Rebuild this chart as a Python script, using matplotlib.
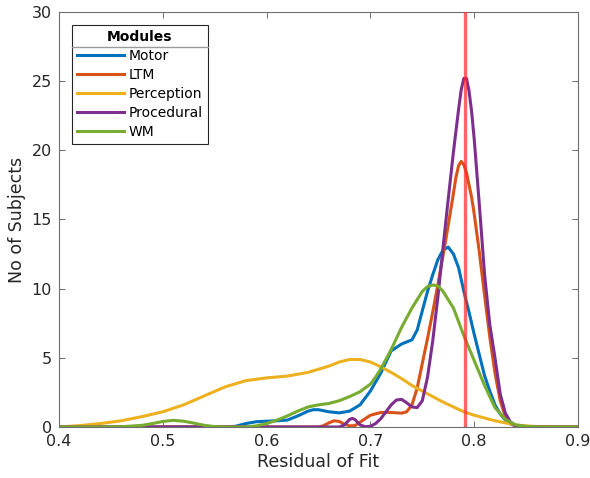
import matplotlib
matplotlib.use("Agg")
import matplotlib.pyplot as plt
from matplotlib.lines import Line2D

# ---------------- data ----------------
motor_x = [0.40, 0.50, 0.56, 0.57, 0.58, 0.59, 0.60, 0.61, 0.62, 0.63, 0.64, 0.645, 0.65,
           0.66, 0.67, 0.68, 0.69, 0.70, 0.71, 0.72, 0.73, 0.74, 0.745, 0.75, 0.755, 0.76,
           0.765, 0.77, 0.775, 0.78, 0.785, 0.79, 0.795, 0.80, 0.805, 0.81, 0.815, 0.82,
           0.825, 0.83, 0.835, 0.84, 0.85, 0.90]
motor_y = [0.0, 0.0, 0.0, 0.05, 0.25, 0.38, 0.42, 0.45, 0.5, 0.8, 1.15, 1.25, 1.25,
           1.1, 1.02, 1.15, 1.6, 2.6, 3.9, 5.5, 6.0, 6.3, 7.0, 8.4, 9.8, 11.0,
           12.1, 12.8, 13.0, 12.5, 11.5, 9.8, 8.3, 6.7, 5.2, 3.7, 2.6, 1.6,
           0.95, 0.5, 0.22, 0.08, 0.02, 0.0]

ltm_x = [0.40, 0.60, 0.65, 0.655, 0.66, 0.665, 0.67, 0.675, 0.68, 0.685, 0.69, 0.70, 0.71,
         0.72, 0.73, 0.735, 0.74, 0.745, 0.75, 0.755, 0.76, 0.765, 0.77, 0.775, 0.78,
         0.7825, 0.785, 0.7875, 0.79, 0.7925, 0.795, 0.7975, 0.80, 0.805, 0.81, 0.815,
         0.82, 0.825, 0.83, 0.835, 0.84, 0.85, 0.90]
ltm_y = [0.0, 0.0, 0.0, 0.1, 0.3, 0.45, 0.4, 0.2, 0.08, 0.1, 0.35, 0.85, 1.05,
         1.05, 1.0, 1.1, 1.6, 2.8, 4.6, 6.4, 8.3, 10.3, 12.4, 14.6, 16.9,
         18.1, 18.9, 19.2, 18.95, 18.4, 17.5, 16.6, 15.4, 12.6, 9.5, 6.5,
         3.9, 1.9, 0.75, 0.25, 0.08, 0.0, 0.0]

perception_x = [0.40, 0.42, 0.44, 0.46, 0.48, 0.50, 0.52, 0.54, 0.56, 0.58, 0.60, 0.62,
                0.64, 0.66, 0.67, 0.68, 0.69, 0.70, 0.71, 0.72, 0.73, 0.74, 0.75, 0.76,
                0.77, 0.78, 0.79, 0.80, 0.81, 0.82, 0.83, 0.84, 0.85, 0.86, 0.88, 0.90]
perception_y = [0.0, 0.1, 0.25, 0.45, 0.75, 1.1, 1.6, 2.25, 2.9, 3.35, 3.55, 3.68,
                3.95, 4.4, 4.7, 4.88, 4.88, 4.7, 4.35, 3.95, 3.5, 3.0, 2.6, 2.2,
                1.8, 1.45, 1.1, 0.85, 0.65, 0.45, 0.3, 0.15, 0.08, 0.03, 0.0, 0.0]

procedural_x = [0.40, 0.60, 0.67, 0.675, 0.68, 0.6825, 0.685, 0.69, 0.695, 0.70, 0.705,
                0.71, 0.715, 0.72, 0.725, 0.73, 0.735, 0.74, 0.745, 0.75, 0.755, 0.76,
                0.765, 0.77, 0.775, 0.78, 0.785, 0.7875, 0.79, 0.7925, 0.795, 0.7975,
                0.80, 0.805, 0.81, 0.815, 0.82, 0.825, 0.83, 0.835, 0.84, 0.85, 0.90]
procedural_y = [0.0, 0.0, 0.0, 0.15, 0.55, 0.62, 0.55, 0.15, 0.02, 0.05, 0.25,
                0.6, 1.1, 1.6, 1.95, 2.0, 1.75, 1.45, 1.4, 1.9, 3.6, 6.2,
                9.4, 13.0, 16.5, 19.9, 23.0, 24.4, 25.2, 25.2, 24.3, 22.8,
                20.8, 16.0, 11.0, 7.4, 5.0, 2.4, 1.0, 0.35, 0.1, 0.0, 0.0]

wm_x = [0.40, 0.44, 0.46, 0.48, 0.49, 0.50, 0.51, 0.52, 0.53, 0.54, 0.55, 0.56, 0.58,
        0.59, 0.60, 0.61, 0.62, 0.63, 0.64, 0.65, 0.66, 0.67, 0.68, 0.69, 0.70, 0.705,
        0.71, 0.72, 0.73, 0.74, 0.75, 0.755, 0.76, 0.765, 0.77, 0.78, 0.79, 0.80, 0.81,
        0.82, 0.83, 0.84, 0.85, 0.86, 0.90]
wm_y = [0.0, 0.0, 0.02, 0.12, 0.25, 0.4, 0.48, 0.42, 0.28, 0.12, 0.03, 0.0, 0.0,
        0.08, 0.25, 0.5, 0.8, 1.15, 1.45, 1.6, 1.7, 1.9, 2.2, 2.55, 3.1, 3.6,
        4.2, 5.6, 7.2, 8.6, 9.8, 10.15, 10.27, 10.2, 9.8, 8.6, 6.6, 4.8, 3.0,
        1.4, 0.55, 0.15, 0.05, 0.0, 0.0]

series_names = ["Motor", "LTM", "Perception", "Procedural", "WM"]
series_x = [motor_x, ltm_x, perception_x, procedural_x, wm_x]
series_y = [motor_y, ltm_y, perception_y, procedural_y, wm_y]
series_colors = ["#0072BD", "#D95319", "#EDB120", "#7E2F8E", "#77AC30"]
marker_value = 0.791

x_ticks = [0.4, 0.5, 0.6, 0.7, 0.8, 0.9]
x_ticklabels = ["0.4", "0.5", "0.6", "0.7", "0.8", "0.9"]
y_ticks = [0, 5, 10, 15, 20, 25, 30]

# ---------------- figure ----------------
plt.rcParams["font.family"] = ["DejaVu Sans"]
fig = plt.figure(figsize=(5.9, 4.78), dpi=100)
ax = fig.add_axes([0.1, 0.1067, 0.8797, 0.8682])

for xs, ys, c, n in zip(series_x, series_y, series_colors, series_names):
    ax.plot(xs, ys, color=c, lw=2.2, label=n, solid_joinstyle="round")

ax.axvline(marker_value, color="#ff2a2a", alpha=0.72, lw=2.4, zorder=5)

ax.set_xlim(0.4, 0.9)
ax.set_ylim(0, 30)
ax.set_xticks(x_ticks)
ax.set_xticklabels(x_ticklabels)
ax.set_yticks(y_ticks)

axis_color = "#262626"
for sp in ax.spines.values():
    sp.set_color("#6e6e6e")
    sp.set_linewidth(0.8)
ax.tick_params(direction="in", length=4, width=0.7, color="#6e6e6e",
               labelcolor=axis_color, labelsize=11.5, top=True, right=True, pad=5)

ax.set_xlabel("Residual of Fit", fontsize=12.5, color=axis_color, labelpad=3)
ax.set_ylabel("No of Subjects", fontsize=12.5, color=axis_color, labelpad=4)

leg = ax.legend(loc="upper left", bbox_to_anchor=(0.025, 0.969), borderaxespad=0,
                fontsize=10, title="Modules", title_fontproperties={"weight": "bold", "size": 10},
                handlelength=3.4, handletextpad=0.35, labelspacing=0.36,
                fancybox=False, framealpha=1, edgecolor="#262626", borderpad=0.35)
leg.get_frame().set_linewidth(0.8)

fig.canvas.draw()
frame_bb = leg.get_frame().get_window_extent()
title_bb = leg.get_title().get_window_extent()
inv = fig.transFigure.inverted()
y_sep = title_bb.y0 - 3
(x0f, yf) = inv.transform((frame_bb.x0, y_sep))
(x1f, _) = inv.transform((frame_bb.x1, y_sep))
fig.add_artist(Line2D([x0f, x1f], [yf, yf], transform=fig.transFigure,
                      color="#9a9a9a", lw=1.0, zorder=10))

fig.savefig("out.png", dpi=100)
